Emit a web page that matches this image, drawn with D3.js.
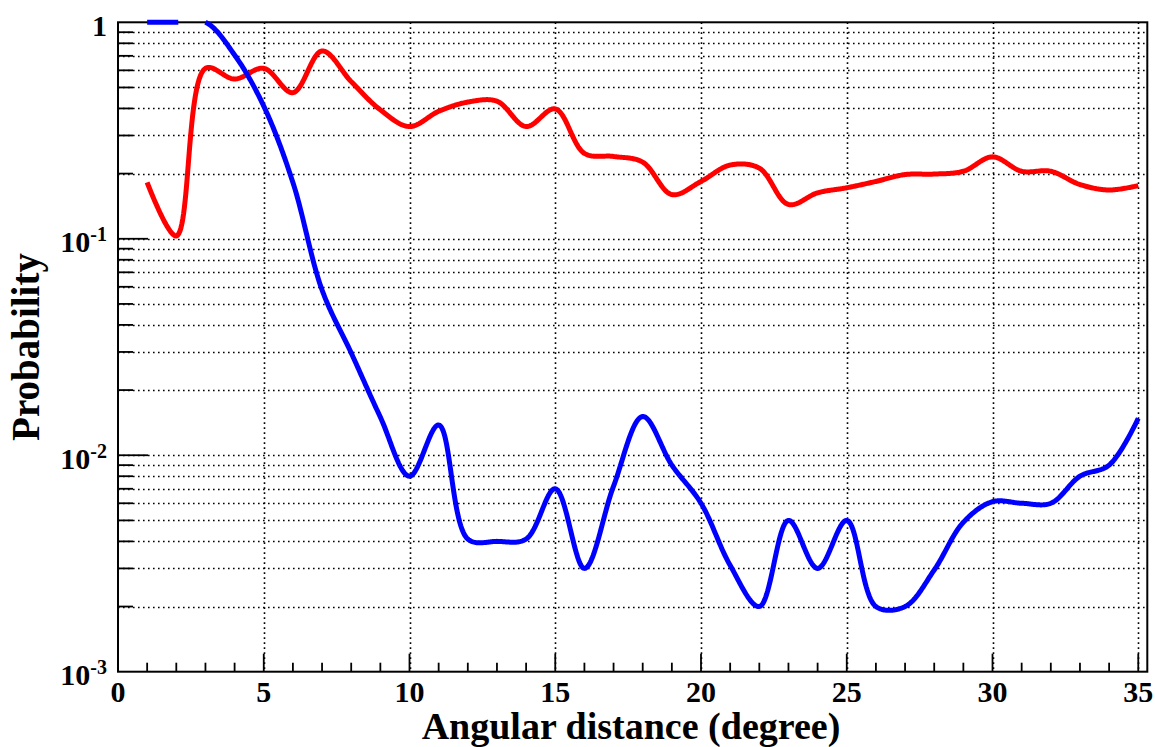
<!DOCTYPE html>
<html>
<head>
<meta charset="utf-8">
<script src="https://cdn.jsdelivr.net/npm/d3@7"></script>
<style>
  html, body { margin: 0; padding: 0; background: #fff; }
  svg { display: block; }
  text { font-family: "Liberation Serif", "Times New Roman", serif; font-weight: bold; fill: #000; }
</style>
</head>
<body>
<svg id="chart" width="1155" height="747"></svg>
<script>
// ---- data ----
const angles = [1,2,3,4,5,6,7,8,9,10,11,12,13,14,15,16,17,18,19,20,21,22,23,24,25,26,27,28,29,30,31,32,33,34,35];
const redSeries = [0.182,0.103,0.613,0.547,0.613,0.473,0.737,0.532,0.394,0.330,0.388,0.428,0.432,0.330,0.398,0.248,0.240,0.226,0.160,0.184,0.219,0.212,0.144,0.163,0.172,0.184,0.198,0.199,0.205,0.239,0.205,0.205,0.178,0.168,0.176];
const blueSeries = [1,1,1,0.706,0.41,0.182,0.058,0.0297,0.0150,0.0080,0.0138,0.0041,0.0040,0.0041,0.0070,0.0030,0.0072,0.0151,0.0090,0.0060,0.0031,0.0020,0.0050,0.0030,0.0050,0.0020,0.0020,0.00295,0.0049,0.0061,0.0060,0.0060,0.0080,0.0090,0.0148];
const xMajorTicks = [0,5,10,15,20,25,30,35];
const yDecades = [1e-3, 1e-2, 1e-1, 1];
const yDecadeExp = ["-3","-2","-1",""];
const xTitle = "Angular distance (degree)";
const yTitle = "Probability";

// ---- layout ----
const L = 118, R = 1147.3, T = 22.3, B = 671.7;
const svg = d3.select("#chart");
const x = d3.scaleLinear().domain([0, 35.31]).range([L, R]);
const y = d3.scaleLog().domain([1e-3, 1]).range([B, T]);

// grid
const gridY = [];
for (let d = -3; d < 0; d++) for (let m = 1; m <= 9; m++) gridY.push(m * Math.pow(10, d));
const g = svg.append("g");
g.selectAll("line.gy").data(gridY.filter(v => v > 1e-3)).enter().append("line")
  .attr("x1", L).attr("x2", R).attr("y1", d => Math.round(y(d)) + 0.5).attr("y2", d => Math.round(y(d)) + 0.5)
  .attr("stroke", "#000").attr("stroke-width", 1.6).attr("stroke-dasharray", "1.6,3.4");
g.selectAll("line.gx").data(xMajorTicks.filter(v => v > 0)).enter().append("line")
  .attr("x1", d => Math.round(x(d)) + 0.5).attr("x2", d => Math.round(x(d)) + 0.5).attr("y1", T).attr("y2", B)
  .attr("stroke", "#000").attr("stroke-width", 1.6).attr("stroke-dasharray", "1.6,3.4");

// ticks
const xMinor = d3.range(1, 36);
g.selectAll("line.xt").data(xMinor).enter().append("line")
  .attr("x1", d => x(d)).attr("x2", d => x(d)).attr("y1", B)
  .attr("y2", d => B - (d % 5 === 0 ? 18 : 9))
  .attr("stroke", "#000").attr("stroke-width", 1.8);
g.selectAll("line.yt").data(gridY.filter(v => v > 1e-3)).enter().append("line")
  .attr("y1", d => y(d)).attr("y2", d => y(d)).attr("x1", L)
  .attr("x2", d => L + (Math.abs(Math.log10(d) - Math.round(Math.log10(d))) < 1e-9 ? 30 : 15))
  .attr("stroke", "#000").attr("stroke-width", 1.8);

// frame
svg.append("rect").attr("x", L).attr("y", T).attr("width", R - L).attr("height", B - T)
  .attr("fill", "none").attr("stroke", "#000").attr("stroke-width", 2);

// x tick labels
svg.selectAll("text.xl").data(xMajorTicks).enter().append("text")
  .attr("x", d => x(d)).attr("y", 702).attr("text-anchor", "middle")
  .style("font-size", "30px").text(d => d);

// y tick labels
yDecades.forEach((v, i) => {
  const t = svg.append("text").attr("x", 107).attr("y", y(v) + 13.5)
    .attr("text-anchor", "end").style("font-size", "30px");
  if (v === 1) { t.text("1"); }
  else {
    t.append("tspan").text("10");
    t.append("tspan").attr("dy", -11).style("font-size", "20px").text(yDecadeExp[i]);
  }
});

// titles
svg.append("text").attr("x", 631).attr("y", 739).attr("text-anchor", "middle")
  .style("font-size", "38px").text(xTitle);
svg.append("text").attr("transform", "translate(39,347) rotate(-90)").attr("text-anchor", "middle")
  .style("font-size", "39px").text(yTitle);

// curves: smooth with Catmull-Rom, then drop the parts above the frame (ROOT-style clipping)
function smoothPolylines(data) {
  const pts = [];
  let cx = 0, cy = 0;
  const ctx = {
    moveTo(a, b) { cx = a; cy = b; pts.push([a, b]); },
    lineTo(a, b) { cx = a; cy = b; pts.push([a, b]); },
    bezierCurveTo(x1, y1, x2, y2, x3, y3) {
      for (let k = 1; k <= 30; k++) {
        const t = k / 30, u = 1 - t;
        pts.push([u*u*u*cx + 3*u*u*t*x1 + 3*u*t*t*x2 + t*t*t*x3,
                  u*u*u*cy + 3*u*u*t*y1 + 3*u*t*t*y2 + t*t*t*y3]);
      }
      cx = x3; cy = y3;
    },
    closePath() {}
  };
  d3.line().x(d => x(d[0])).y(d => y(d[1])).curve(d3.curveCatmullRom.alpha(0.5)).context(ctx)(data);
  const runs = [];
  let cur = [];
  pts.forEach(p => {
    if (p[1] < T - 0.05) { if (cur.length > 1) runs.push(cur); cur = []; }
    else cur.push(p);
  });
  if (cur.length > 1) runs.push(cur);
  return runs;
}
const poly = d3.line();
[[redSeries, "#ff0000"], [blueSeries, "#0000ff"]].forEach(([ser, col]) => {
  const runs = smoothPolylines(angles.map((a, i) => [a, ser[i]]));
  svg.append("g").selectAll("path").data(runs).enter().append("path")
    .attr("d", poly).attr("fill", "none").attr("stroke", col).attr("stroke-width", 5)
    .attr("stroke-linejoin", "round");
});
</script>
</body>
</html>
